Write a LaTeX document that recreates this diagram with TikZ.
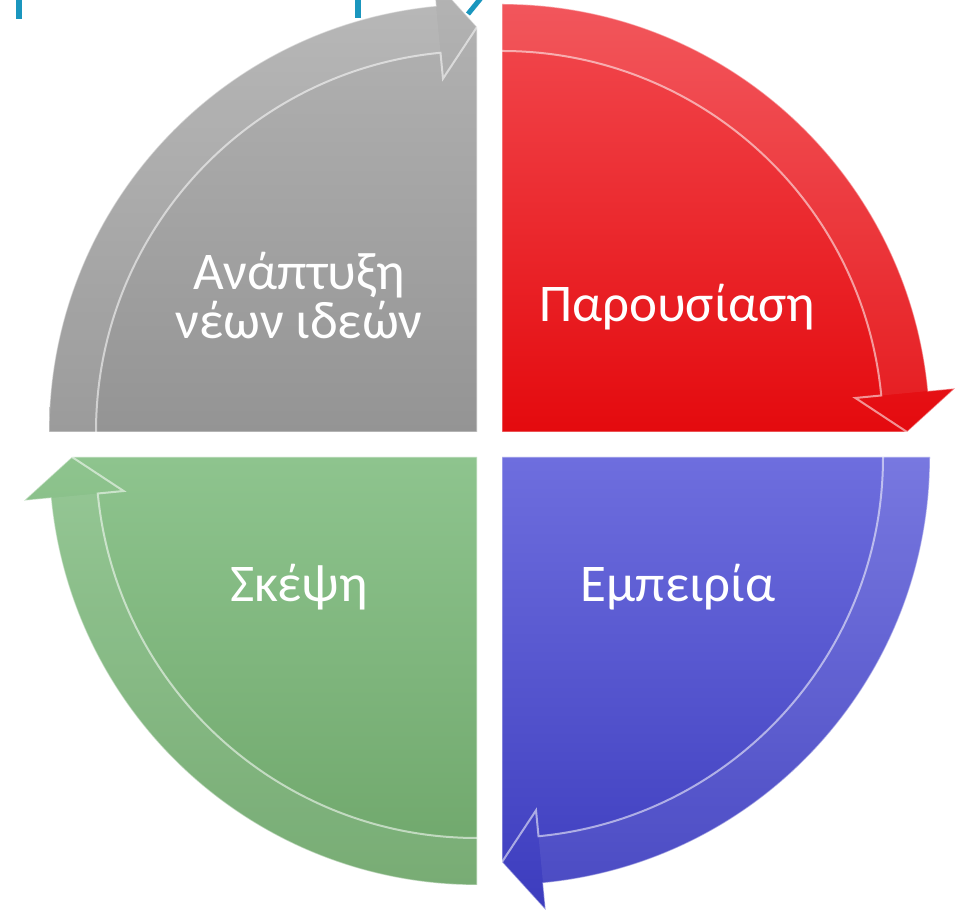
\documentclass[tikz,border=0pt]{standalone}
\usepackage{fontspec}
\setmainfont{Carlito}
\definecolor{grayT}{RGB}{180,180,180}
\definecolor{grayM}{RGB}{166,166,166}
\definecolor{grayB}{RGB}{148,148,148}
\definecolor{redT}{RGB}{242,74,80}
\definecolor{redM}{RGB}{240,26,30}
\definecolor{redB}{RGB}{228,10,14}
\definecolor{bluT}{RGB}{110,110,222}
\definecolor{bluM}{RGB}{80,80,208}
\definecolor{bluB}{RGB}{60,60,190}
\definecolor{grnT}{RGB}{142,196,142}
\definecolor{grnM}{RGB}{128,184,124}
\definecolor{grnB}{RGB}{110,166,106}
\definecolor{titleteal}{RGB}{26,150,190}
\newcommand{\quadseg}[5]{%
  \begin{scope}[shift={(#1)}]
    \shade[top color=#3, middle color=#4, bottom color=#5]
      (0,0) -- (#2:405) -- (#2+5.5:455) -- (#2+5.5:428)
      arc[start angle=#2+5.5, end angle=#2+90, radius=428pt] -- cycle;
    \fill[white, opacity=.07] (#2+5.5:381) -- (#2+5.5:428)
      arc[start angle=#2+5.5, end angle=#2+90, radius=428pt]
      -- (#2+90:381) arc[start angle=#2+90, end angle=#2+5.5, radius=381pt] -- cycle;
    \draw[white, opacity=.45, line width=1.2pt]
      (0,0) -- (#2:405) -- (#2+5.5:455) -- (#2+5.5:428)
      arc[start angle=#2+5.5, end angle=#2+90, radius=428pt] -- cycle;
    \draw[white, opacity=.55, line width=2pt]
      (#2+90:381) arc[start angle=#2+90, end angle=#2+5.5, radius=381pt]
      -- (#2+5.5:355) -- (#2:405);
  \end{scope}}
\tikzset{
  lbl/.style={text=white, font=\fontsize{53}{49}\selectfont, anchor=base, inner sep=0pt},
  titlestroke/.style={titleteal, line width=6pt}
}
\begin{document}
\begin{tikzpicture}[x=1pt,y=1pt]
\useasboundingbox (0,0) rectangle (961,912);
\clip (0,0) rectangle (961,912);
\quadseg{477,480}{90}{grayT}{grayM}{grayB}
\quadseg{502,480}{0}{redT}{redM}{redB}
\quadseg{502,455}{-90}{bluT}{bluM}{bluB}
\quadseg{477,455}{180}{grnT}{grnM}{grnB}
\draw[titlestroke] (18.5,914) -- (18.5,893);
\draw[titlestroke] (357.5,914) -- (357.5,894);
\draw[titlestroke, line width=5pt] (481,914) -- (468,898);
\node[lbl, align=center] (g1) at (299,573) {Ανάπτυξη\\νέων ιδεών};
\node[lbl] (r1) at (677,590) {Παρουσίαση};
\node[lbl] (b1) at (678,310) {Εμπειρία};
\node[lbl] (n1) at (299,310) {Σκέψη};
\end{tikzpicture}
\end{document}
